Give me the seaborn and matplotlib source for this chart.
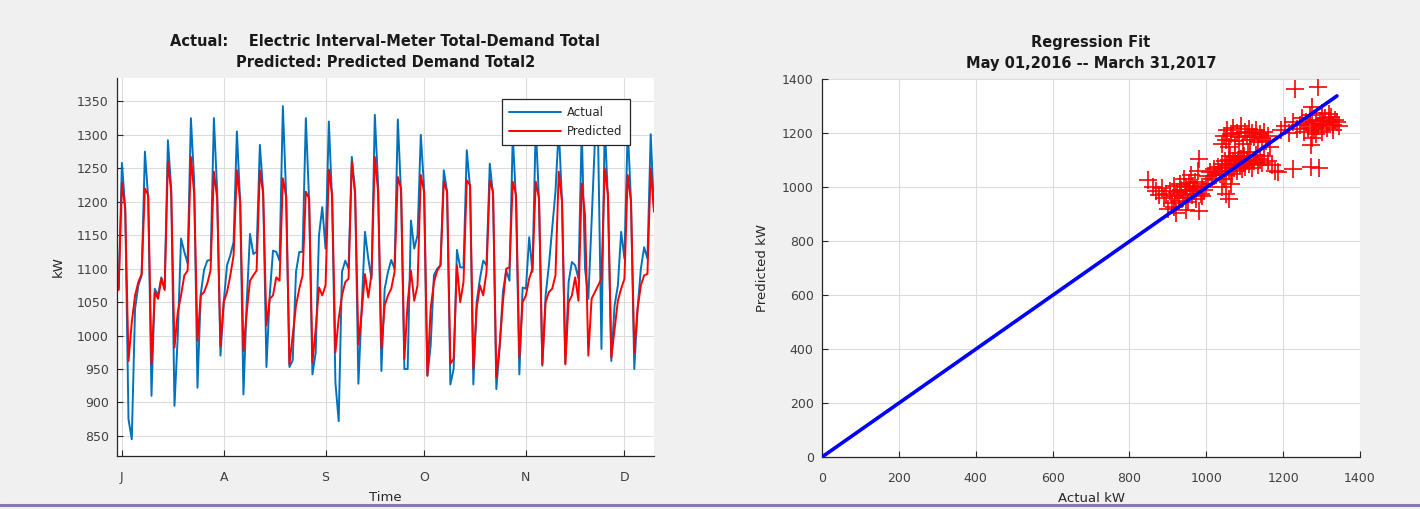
import numpy as np
import pandas as pd
import matplotlib
matplotlib.use('Agg')
import matplotlib.pyplot as plt
from matplotlib.lines import Line2D
import seaborn as sns

# ---- left panel: daily demand, Jun 30 - Dec 10 2016 ----
first_day = '2016-06-30'
start_actual = 1070
start_pred = 1068

# each week: peak, day after, low, then four days before the next peak
actual_weeks = [
    [1258, 1190, 875, 845, 1040, 1075, 1090],
    [1275, 1205, 910, 1070, 1060, 1087, 1070],
    [1292, 1220, 895, 1000, 1145, 1125, 1108],
    [1325, 1230, 922, 1062, 1098, 1112, 1113],
    [1325, 1215, 970, 1050, 1105, 1120, 1140],
    [1305, 1200, 912, 1050, 1152, 1122, 1125],
    [1285, 1215, 953, 1060, 1127, 1125, 1112],
    [1343, 1210, 953, 963, 1095, 1125, 1125],
    [1325, 1200, 942, 975, 1150, 1192, 1130],
    [1320, 1200, 930, 872, 1095, 1112, 1100],
    [1267, 1215, 928, 1040, 1155, 1115, 1085],
    [1330, 1225, 947, 1070, 1095, 1113, 1100],
    [1323, 1210, 950, 950, 1172, 1130, 1150],
    [1300, 1220, 940, 985, 1090, 1100, 1105],
    [1247, 1215, 927, 950, 1128, 1102, 1102],
    [1277, 1220, 927, 1050, 1085, 1112, 1105],
    [1257, 1210, 920, 982, 1065, 1097, 1082],
    [1300, 1200, 942, 1072, 1070, 1147, 1095],
    [1315, 1200, 955, 1060, 1105, 1160, 1215],
    [1310, 1200, 958, 1080, 1110, 1105, 1085],
    [1310, 1100, 1055, 1170, 1290, 1288, 980],
    [1320, 1200, 962, 1045, 1075, 1155, 1115],
    [1310, 1200, 950, 1040, 1100, 1132, 1115],
    [1301, 1187],
]
pred_weeks = [
    [1228, 1190, 962, 1020, 1060, 1080, 1092],
    [1220, 1210, 957, 1065, 1055, 1085, 1068],
    [1260, 1215, 982, 1035, 1060, 1090, 1097],
    [1267, 1212, 992, 1060, 1065, 1078, 1098],
    [1245, 1205, 985, 1050, 1065, 1090, 1120],
    [1247, 1200, 977, 1035, 1082, 1090, 1097],
    [1247, 1212, 1015, 1055, 1060, 1087, 1082],
    [1235, 1208, 957, 1000, 1045, 1070, 1090],
    [1215, 1205, 960, 1010, 1072, 1060, 1075],
    [1248, 1210, 975, 1025, 1060, 1080, 1085],
    [1260, 1210, 987, 1035, 1092, 1057, 1092],
    [1267, 1215, 981, 1045, 1060, 1070, 1095],
    [1237, 1220, 965, 1050, 1097, 1052, 1075],
    [1240, 1215, 940, 1040, 1080, 1097, 1105],
    [1230, 1215, 958, 965, 1105, 1050, 1080],
    [1232, 1225, 950, 1040, 1075, 1060, 1095],
    [1232, 1215, 938, 985, 1050, 1100, 1102],
    [1230, 1210, 967, 1050, 1060, 1085, 1100],
    [1230, 1205, 957, 1050, 1065, 1070, 1090],
    [1245, 1200, 957, 1050, 1060, 1087, 1052],
    [1227, 1180, 970, 1055, 1065, 1075, 1085],
    [1250, 1210, 967, 1010, 1052, 1070, 1085],
    [1240, 1200, 975, 1040, 1075, 1090, 1092],
    [1250, 1185],
]
month_ticks = ['2016-07-01', '2016-08-01', '2016-09-01', '2016-10-01', '2016-11-01', '2016-12-01']
month_labels = ['J', 'A', 'S', 'O', 'N', 'D']
left_yticks = [850, 900, 950, 1000, 1050, 1100, 1150, 1200, 1250, 1300, 1350]

# ---- right panel: actual vs predicted, May 2016 - Mar 2017 ----
scatter_actual = [
    848, 862, 870, 878, 885, 890, 895, 900, 905, 910, 915, 918, 920, 925, 930, 932,
    935, 940, 942, 945, 948, 950, 952, 955, 958, 960, 962, 965, 968, 970, 972, 975,
    978, 980, 982, 985, 988, 990, 995, 1000, 948, 915,
    1005, 1010, 1015, 1020, 1025, 1030, 1035, 1040, 1042, 1045, 1048, 1050, 1052, 1055,
    1058, 1060, 1062, 1065, 1068, 1070, 1072, 1075, 1078, 1080, 1082, 1085, 1088, 1090,
    1092, 1095, 1098, 1100, 1105, 1108, 1110, 1115, 1120, 1125, 1130, 1135, 1140, 1145,
    1150, 1160, 1170, 1180, 1050, 1058, 1065, 1040,
    1040, 1045, 1050, 1055, 1060, 1065, 1070, 1075, 1080, 1085, 1090, 1095, 1100, 1105,
    1110, 1115, 1120, 1125, 1130, 1135, 1140, 1145, 1150, 1155, 1160, 1165,
    1195, 1205, 1215, 1225, 1235, 1245, 1250, 1255, 1260, 1265, 1270, 1275, 1280, 1285,
    1290, 1295, 1300, 1305, 1310, 1315, 1320, 1325, 1330, 1335, 1340, 1345, 1320, 1300,
    1285, 1330,
    1231, 1292, 1274, 1272, 1272, 1293, 1226, 1187, 1275,
]
scatter_pred = [
    1026, 1000, 985, 970, 995, 960, 975, 920, 985, 940, 1005, 965, 905, 980, 950, 1010,
    990, 960, 1030, 975, 1000, 985, 945, 1015, 990, 1045, 970, 1005, 985, 1020, 955, 995,
    1060, 1105, 910, 975, 1000, 965, 990, 1010, 915, 925,
    1040, 1055, 1030, 1065, 1045, 1075, 1050, 1085, 1060, 1030, 1095, 1070, 1045, 1080,
    1100, 1060, 1115, 1085, 1050, 1095, 1070, 1110, 1085, 1060, 1100, 1125, 1080, 1105,
    1065, 1090, 1115, 1075, 1100, 1130, 1085, 1110, 1070, 1095, 1120, 1080, 1105, 1090,
    1115, 1095, 1080, 1060, 975, 955, 1010, 1000,
    1160, 1190, 1175, 1210, 1150, 1195, 1220, 1170, 1200, 1185, 1225, 1160, 1205, 1190,
    1215, 1175, 1200, 1185, 1210, 1165, 1195, 1180, 1205, 1170, 1190, 1150,
    1210, 1225, 1200, 1240, 1215, 1230, 1255, 1205, 1240, 1220, 1265, 1235, 1210, 1250,
    1225, 1245, 1205, 1235, 1255, 1220, 1240, 1260, 1230, 1250, 1240, 1225, 1270, 1275,
    1195, 1210,
    1364, 1370, 1296, 1155, 1075, 1072, 1068, 1056, 1180,
]
fit_x = [0, 1340]
fit_slope = 0.998
fit_intercept = 0.0
right_ticks = [0, 200, 400, 600, 800, 1000, 1200, 1400]

# ---- build tables ----
actual = [start_actual] + [v for w in actual_weeks for v in w]
pred = [start_pred] + [v for w in pred_weeks for v in w]
days = pd.date_range(first_day, periods=len(actual), freq='D')
ts = pd.DataFrame({
    'Time': list(days) + list(days),
    'kW': actual + pred,
    'series': ['Actual'] * len(actual) + ['Predicted'] * len(pred),
})
fit_y = [fit_slope * x + fit_intercept for x in fit_x]

sns.set_style('ticks')
plt.rcParams['font.family'] = ['DejaVu Sans']

W, H = 1420, 509
fig = plt.figure(figsize=(W / 100, H / 100), dpi=100, facecolor='#f0f0f0')
ax1 = fig.add_axes([117 / W, (H - 456) / H, 537 / W, 378 / H])
ax2 = fig.add_axes([822 / W, (H - 457) / H, 538 / W, 378 / H])

text_c = '#262626'
tick_c = '#404040'
grid_c = '#dcdcdc'

# left: time series
colors = {'Actual': '#0072BD', 'Predicted': '#FF0000'}
sns.lineplot(data=ts, x='Time', y='kW', hue='series', palette=colors,
             linewidth=1.4, ax=ax1, legend=False)
ax1.set_xlim(pd.Timestamp('2016-06-29 12:00'), pd.Timestamp('2016-12-10'))
ax1.set_ylim(820, 1385)
ax1.set_xticks(pd.to_datetime(month_ticks))
ax1.set_xticklabels(month_labels)
ax1.set_yticks(left_yticks)
ax1.set_xlabel('Time', fontsize=9.5, color=text_c, labelpad=5)
ax1.set_ylabel('kW', fontsize=9.5, color=text_c, labelpad=9)
ax1.set_title('Actual:    Electric Interval-Meter Total-Demand Total\n'
              'Predicted: Predicted Demand Total2',
              fontsize=10.5, fontweight='bold', color='#1a1a1a', linespacing=1.45, pad=8)
handles = [Line2D([], [], color=colors[k], lw=1.4) for k in ['Actual', 'Predicted']]
leg = ax1.legend(handles, ['Actual', 'Predicted'], loc='upper right',
                 bbox_to_anchor=(0.955, 0.945), borderaxespad=0, fontsize=8.5,
                 handlelength=4.4, handletextpad=0.5, fancybox=False,
                 framealpha=1, edgecolor='#262626', borderpad=0.6, labelspacing=0.55)
leg.get_frame().set_linewidth(0.9)
for t in leg.get_texts():
    t.set_color(text_c)

# right: regression fit
sns.scatterplot(x=scatter_actual, y=scatter_pred, marker='+', s=170, color='#FF0000',
                linewidth=1.2, ax=ax2, zorder=3)
sns.lineplot(x=fit_x, y=fit_y, color='#0000FF', linewidth=2.6, ax=ax2, zorder=4)
ax2.set_xlim(0, 1400)
ax2.set_ylim(0, 1400)
ax2.set_xticks(right_ticks)
ax2.set_yticks(right_ticks)
ax2.set_xlabel('Actual kW', fontsize=9.5, color=text_c, labelpad=5)
ax2.set_ylabel('Predicted kW', fontsize=9.5, color=text_c, labelpad=9)
ax2.set_title('Regression Fit\nMay 01,2016 -- March 31,2017',
              fontsize=10.5, fontweight='bold', color='#1a1a1a', linespacing=1.45, pad=8)

for ax in (ax1, ax2):
    ax.set_facecolor('white')
    ax.grid(True, color=grid_c, linewidth=0.8)
    ax.set_axisbelow(True)
    for side in ('top', 'right'):
        ax.spines[side].set_visible(False)
    for side in ('left', 'bottom'):
        ax.spines[side].set_color(text_c)
        ax.spines[side].set_linewidth(0.9)
    ax.tick_params(direction='in', length=4, width=0.8, colors=text_c,
                   labelcolor=tick_c, labelsize=9)
    ax.tick_params(axis='x', pad=11)
    ax.tick_params(axis='y', pad=6)

# screenshot border line at the bottom
fig.add_artist(Line2D([0, 1], [4 / H, 4 / H], color='#8a76b5', lw=2.2,
                      transform=fig.transFigure, zorder=10))

fig.savefig('out.png', dpi=100, facecolor=fig.get_facecolor())
